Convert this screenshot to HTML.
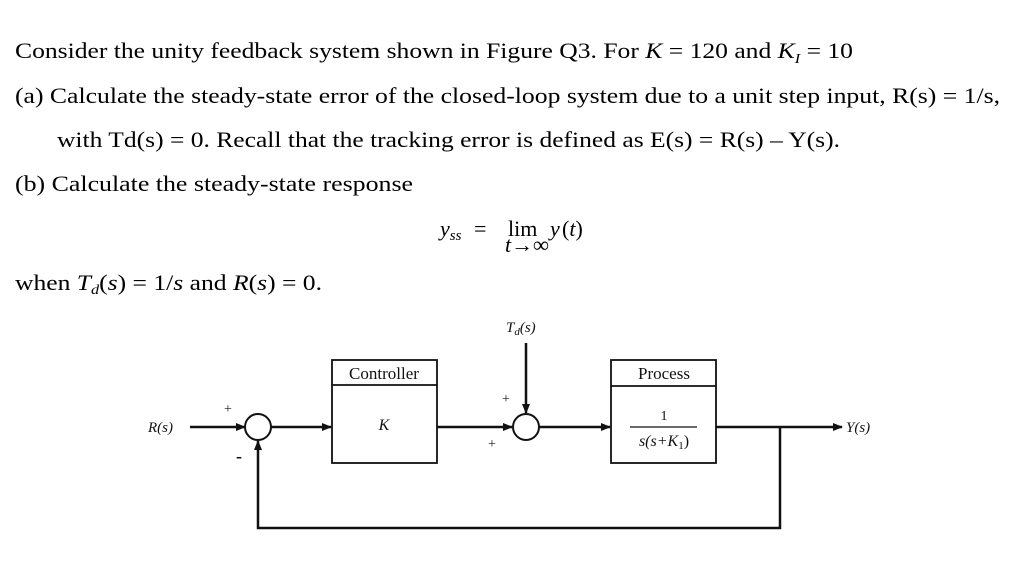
<!DOCTYPE html>
<html><head><meta charset="utf-8"><style>
html,body{margin:0;padding:0;background:#fff;width:1027px;height:562px;overflow:hidden}
svg{display:block}
.t{font-family:"Liberation Serif",serif;font-size:22px;fill:#000}
.d{font-family:"Liberation Serif",serif;fill:#111}
</style></head><body>
<svg width="1027" height="562" viewBox="0 0 1027 562" xmlns="http://www.w3.org/2000/svg">
<defs><marker id="a" markerWidth="10" markerHeight="8" refX="9" refY="4" orient="auto" markerUnits="userSpaceOnUse"><path d="M0,0 L10,4 L0,8 z" fill="#111"/></marker></defs>
<text class="t" x="15" y="58" textLength="838" lengthAdjust="spacingAndGlyphs">Consider the unity feedback system shown in Figure Q3. For <tspan font-style="italic">K</tspan> = 120 and <tspan font-style="italic">K</tspan><tspan font-style="italic" font-size="14" dy="5">I</tspan><tspan dy="-5"> = 10</tspan></text>
<text class="t" x="15" y="103" textLength="985" lengthAdjust="spacingAndGlyphs">(a)  Calculate the steady-state error of the closed-loop system due to a unit step input, R(s) = 1/s,</text>
<text class="t" x="57" y="147" textLength="783" lengthAdjust="spacingAndGlyphs">with Td(s) = 0. Recall that the tracking error is defined as E(s) = R(s) – Y(s).</text>
<text class="t" x="15" y="191" textLength="398" lengthAdjust="spacingAndGlyphs">(b)  Calculate the steady-state response</text>
<text class="t" x="440" y="236" font-style="italic">y<tspan font-size="15" dy="4">ss</tspan></text>
<text class="t" x="474" y="236">=</text>
<text class="t" x="508" y="236">lim</text>
<text class="t" x="550" y="236" font-style="italic">y</text><text class="t" x="562" y="236">(<tspan font-style="italic">t</tspan>)</text>
<text class="t" x="505" y="252" font-size="14" font-style="italic">t→∞</text>
<text class="t" x="15" y="290" textLength="307" lengthAdjust="spacingAndGlyphs">when <tspan font-style="italic">T</tspan><tspan font-style="italic" font-size="14" dy="4">d</tspan><tspan dy="-4">(</tspan><tspan font-style="italic">s</tspan>) = 1/<tspan font-style="italic">s</tspan> and <tspan font-style="italic">R</tspan>(<tspan font-style="italic">s</tspan>) = 0.</text>

<g stroke="#111" stroke-width="2.5" fill="none">
<line x1="190" y1="427" x2="245" y2="427" marker-end="url(#a)"/>
<circle cx="258" cy="427" r="13" stroke-width="2"/>
<line x1="271" y1="427" x2="331" y2="427" marker-end="url(#a)"/>
<rect x="332" y="360" width="105" height="103" stroke-width="1.8"/>
<line x1="332" y1="385" x2="437" y2="385" stroke-width="1.8"/>
<line x1="437" y1="427" x2="512" y2="427" marker-end="url(#a)"/>
<circle cx="526" cy="427" r="13" stroke-width="2"/>
<line x1="526" y1="343" x2="526" y2="413" marker-end="url(#a)"/>
<line x1="539" y1="427" x2="610" y2="427" marker-end="url(#a)"/>
<rect x="611" y="360" width="105" height="103" stroke-width="1.8"/>
<line x1="611" y1="386" x2="716" y2="386" stroke-width="1.8"/>
<line x1="716" y1="427" x2="842" y2="427" marker-end="url(#a)"/>
<polyline points="780,427 780,528 258,528 258,441" marker-end="url(#a)"/>
<line x1="630" y1="427" x2="697" y2="427" stroke-width="1.2"/>
</g>
<text class="d" x="148" y="432" font-size="15" font-style="italic">R(s)</text>
<text class="d" x="224" y="413" font-size="14">+</text>
<text class="d" x="236" y="462" font-size="18" font-weight="bold">-</text>
<text class="d" x="384" y="379" font-size="17" text-anchor="middle">Controller</text>
<text class="d" x="384" y="430" font-size="16" font-style="italic" text-anchor="middle">K</text>
<text class="d" x="506" y="332" font-size="15" font-style="italic">T<tspan font-size="11" dy="3">d</tspan><tspan dy="-3">(s)</tspan></text>
<text class="d" x="502" y="403" font-size="14">+</text>
<text class="d" x="488" y="448" font-size="14">+</text>
<text class="d" x="664" y="379" font-size="17" text-anchor="middle">Process</text>
<text class="d" x="664" y="420" font-size="14" text-anchor="middle">1</text>
<text class="d" x="664" y="446" font-size="16" text-anchor="middle" font-style="italic">s(s+K<tspan font-size="11" dy="3" font-style="normal">1</tspan><tspan dy="-3" font-style="normal">)</tspan></text>
<text class="d" x="846" y="432" font-size="15" font-style="italic">Y(s)</text>
</svg>
</body></html>
